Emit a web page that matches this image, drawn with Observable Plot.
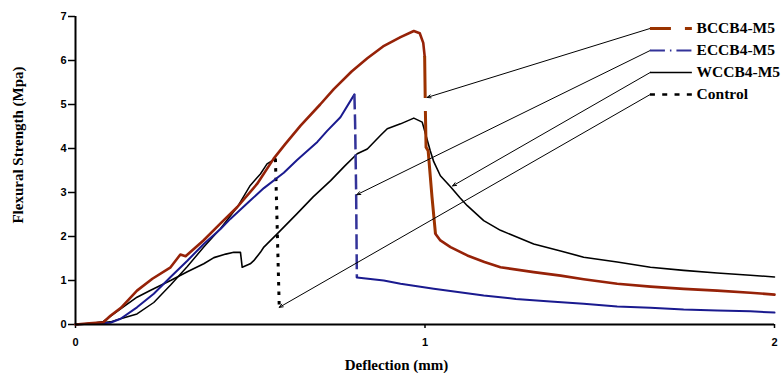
<!DOCTYPE html>
<html><head><meta charset="utf-8">
<script src="https://cdn.jsdelivr.net/npm/d3@7"></script>
<script src="https://cdn.jsdelivr.net/npm/@observablehq/plot@0.6"></script>
<style>body{margin:0;background:#fff}</style>
</head><body><div id="chart"></div>
<script>
// ---- data (deflection mm, flexural strength MPa) ----
const seriesNames = ["BCCB4-M5", "ECCB4-M5", "WCCB4-M5", "Control"];
const xTicks = [0, 1, 2];
const yTicks = [0, 1, 2, 3, 4, 5, 6, 7];

const bccbRiseX = [0, 0.04, 0.08, 0.10, 0.13, 0.176, 0.22, 0.272, 0.30, 0.315, 0.366, 0.415, 0.463, 0.52, 0.567, 0.60, 0.644, 0.70, 0.739, 0.79, 0.835, 0.88, 0.93, 0.968, 0.985, 0.995, 0.999];
const bccbRiseY = [0, 0.03, 0.05, 0.20, 0.38, 0.77, 1.04, 1.30, 1.59, 1.55, 1.91, 2.30, 2.67, 3.20, 3.77, 4.10, 4.52, 5.00, 5.35, 5.75, 6.05, 6.32, 6.53, 6.67, 6.62, 6.40, 6.10];
const bccbDropX = [0.999, 1.001, 1.003, 1.009, 1.020, 1.030];
const bccbDropY = [6.10, 4.90, 4.03, 3.95, 2.90, 2.06];
const bccbTailX = [1.030, 1.044, 1.073, 1.121, 1.170, 1.216, 1.311, 1.388, 1.454, 1.550, 1.645, 1.740, 1.836, 1.931, 2.0];
const bccbTailY = [2.06, 1.91, 1.76, 1.57, 1.42, 1.30, 1.19, 1.11, 1.03, 0.925, 0.86, 0.81, 0.77, 0.72, 0.68];

const eccbRiseX = [0, 0.05, 0.10, 0.129, 0.176, 0.224, 0.272, 0.32, 0.367, 0.415, 0.443, 0.50, 0.539, 0.596, 0.634, 0.692, 0.72, 0.758, 0.798];
const eccbRiseY = [0, 0.02, 0.04, 0.13, 0.39, 0.70, 1.08, 1.45, 1.83, 2.17, 2.40, 2.82, 3.10, 3.45, 3.74, 4.15, 4.40, 4.71, 5.23];
const eccbDropX = [0.798, 0.800, 0.803, 0.805];
const eccbDropY = [5.23, 4.60, 3.00, 1.07];
const eccbTailX = [0.805, 0.882, 0.93, 1.025, 1.168, 1.26, 1.359, 1.454, 1.55, 1.645, 1.74, 1.836, 1.931, 2.0];
const eccbTailY = [1.07, 1.00, 0.925, 0.81, 0.66, 0.58, 0.52, 0.47, 0.41, 0.38, 0.34, 0.32, 0.30, 0.27];

const wccbX = [0, 0.05, 0.08, 0.13, 0.176, 0.215, 0.272, 0.32, 0.367, 0.396, 0.43, 0.453, 0.467, 0.472, 0.477, 0.50, 0.51, 0.529, 0.539, 0.577, 0.634, 0.68, 0.73, 0.77, 0.806, 0.835, 0.873, 0.892, 0.93, 0.968, 0.992, 1.004, 1.015, 1.025, 1.044, 1.073, 1.10, 1.121, 1.168, 1.216, 1.311, 1.388, 1.454, 1.55, 1.645, 1.74, 1.836, 1.931, 2.0];
const wccbY = [0, 0.03, 0.07, 0.36, 0.62, 0.78, 1.00, 1.20, 1.38, 1.52, 1.60, 1.64, 1.64, 1.64, 1.30, 1.38, 1.45, 1.64, 1.76, 2.06, 2.52, 2.90, 3.27, 3.60, 3.88, 3.99, 4.30, 4.45, 4.56, 4.69, 4.60, 4.26, 3.95, 3.70, 3.38, 3.13, 2.88, 2.70, 2.36, 2.14, 1.83, 1.67, 1.53, 1.42, 1.30, 1.23, 1.17, 1.12, 1.08];

const controlRiseX = [0, 0.05, 0.10, 0.129, 0.176, 0.224, 0.272, 0.32, 0.367, 0.415, 0.463, 0.50, 0.529, 0.548, 0.572];
const controlRiseY = [0, 0.02, 0.06, 0.13, 0.24, 0.50, 0.90, 1.32, 1.76, 2.18, 2.67, 3.16, 3.42, 3.65, 3.77];
const controlDropX = [0.572, 0.583];
const controlDropY = [3.77, 0.39];

// points the legend leader arrows point to
const arrowTargetX = [1.006, 0.805, 1.079, 0.583];
const arrowTargetY = [5.16, 2.95, 3.15, 0.39];

// ---- layout / style ----
const legendRowY = [6.73, 6.23, 5.73, 5.23];
const legendLineX1 = 1.645, legendLineX2 = 1.765, legendTextX = 1.777;
const serif = "'Liberation Serif', 'Times New Roman', serif";
const legendStyle = [
  {stroke: "#993300", strokeWidth: 3, strokeDasharray: "21,14"},
  {stroke: "#333399", strokeWidth: 2, strokeDasharray: "15,5,1.5,5"},
  {stroke: "#000", strokeWidth: 1.5},
  {stroke: "#000", strokeWidth: 2.5, strokeDasharray: "5,7.3"}
];

const pts = (xs, ys) => xs.map((x, i) => ({x, y: ys[i]}));

const legendMarks = seriesNames.map((n, i) =>
  Plot.ruleY([legendRowY[i]], {x1: legendLineX1, x2: legendLineX2, y: d => d, ...legendStyle[i]}));

const chart = Plot.plot({
  width: 782, height: 373,
  marginLeft: 75, marginRight: 8, marginTop: 16, marginBottom: 49,
  x: {domain: [0, 2]},
  y: {domain: [0, 7]},
  style: {fontFamily: "'Liberation Sans', Arial, sans-serif", fontSize: "11px", fontWeight: "bold", background: "#fff", color: "#000"},
  marks: [
    Plot.axisY({ticks: yTicks, tickSize: 7, tickPadding: 2, label: null, strokeWidth: 1.5, tickFormat: d => d}),
    Plot.axisX({ticks: xTicks, tickSize: 4, tickPadding: 10, label: null, strokeWidth: 1.5, tickFormat: d => d}),
    // curves
    Plot.line(pts(controlRiseX, controlRiseY), {x: "x", y: "y", stroke: "#000", strokeWidth: 1.5}),
    Plot.line(pts(controlDropX, controlDropY), {x: "x", y: "y", stroke: "#000", strokeWidth: 3, strokeDasharray: "3.5,6", strokeLinecap: "butt"}),
    Plot.line(pts(wccbX, wccbY), {x: "x", y: "y", stroke: "#000", strokeWidth: 1.6}),
    Plot.line(pts(eccbRiseX, eccbRiseY), {x: "x", y: "y", stroke: "#1a1a8f", strokeWidth: 2}),
    Plot.line(pts(eccbDropX, eccbDropY), {x: "x", y: "y", stroke: "#333399", strokeWidth: 2.5, strokeDasharray: "15,5", strokeLinecap: "butt"}),
    Plot.line(pts(eccbTailX, eccbTailY), {x: "x", y: "y", stroke: "#1a1a8f", strokeWidth: 2}),
    Plot.line(pts(bccbRiseX, bccbRiseY), {x: "x", y: "y", stroke: "#962208", strokeWidth: 2.6}),
    Plot.line(pts(bccbDropX, bccbDropY), {x: "x", y: "y", stroke: "#9c3300", strokeWidth: 3, strokeDasharray: "42,13,300", strokeLinecap: "butt"}),
    Plot.line(pts(bccbTailX, bccbTailY), {x: "x", y: "y", stroke: "#962208", strokeWidth: 2.6}),
    // axis lines
    Plot.ruleX([0], {y1: 0, y2: 7, stroke: "#000", strokeWidth: 2}),
    Plot.ruleY([0], {x1: 0, x2: 2, stroke: "#000", strokeWidth: 2}),
    // legend leader arrows
    Plot.arrow(seriesNames, {
      x1: legendLineX1, y1: (d, i) => legendRowY[i],
      x2: (d, i) => arrowTargetX[i], y2: (d, i) => arrowTargetY[i],
      stroke: "#000", strokeWidth: 1, headLength: 6, headAngle: 45
    }),
    ...legendMarks,
    Plot.text(seriesNames, {x: legendTextX, y: (d, i) => legendRowY[i], text: d => d, textAnchor: "start", lineAnchor: "middle",
      fontFamily: serif, fontSize: 15.5, fontWeight: "bold", fill: "#000"}),
    // axis titles
    Plot.text(["Deflection (mm)"], {frameAnchor: "bottom", text: d => d, textAnchor: "middle", lineAnchor: "middle", dx: -28.5, dy: 40.5,
      fontFamily: serif, fontSize: 15, fontWeight: "bold", fill: "#000"}),
    Plot.text(["Flexural Strength (Mpa)"], {frameAnchor: "left", text: d => d, textAnchor: "middle", lineAnchor: "middle", rotate: -90, dx: -57, dy: -25.5,
      fontFamily: serif, fontSize: 15, fontWeight: "bold", fill: "#000"})
  ]
});
document.getElementById("chart").appendChild(chart);
</script>
</body></html>
